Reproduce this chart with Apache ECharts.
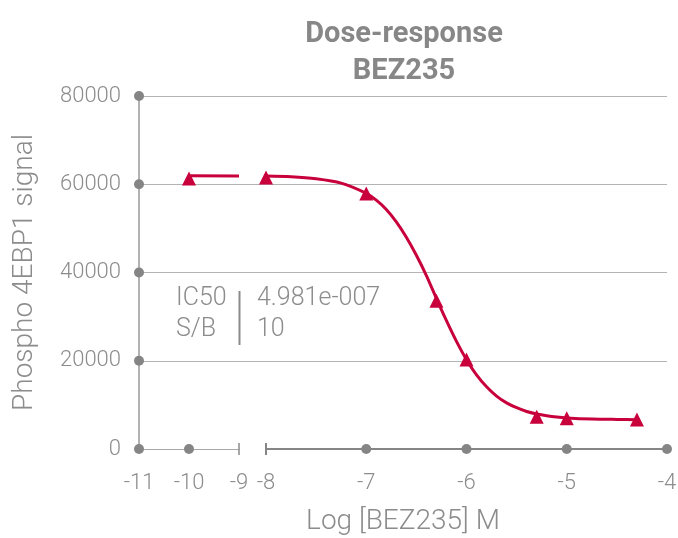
<!DOCTYPE html>
<html>
<head>
<meta charset="utf-8">
<script src="https://cdn.jsdelivr.net/npm/echarts@6/dist/echarts.min.js"></script>
<style>
  html, body { margin: 0; padding: 0; background: #fff; }
  #chart { width: 678px; height: 538px; }
</style>
</head>
<body>
<div id="chart"></div>
<script>
// tick values
var yTicks = [0, 20000, 40000, 60000, 80000];
var xTicksLeft = [-11, -10];
var xTicksRight = [-7, -6, -5, -4];
var breakEnds = [-9, -8];

// measured points (log M, signal)
var measuredLeft = [[-10, 61300]];
var measuredRight = [[-8, 61550], [-7, 57900], [-6.3, 33600], [-6, 20300], [-5.3, 7300], [-5, 6950], [-4.3, 6700]];

// fitted curve
var fitLeft = [[-10, 61900], [-9, 61880]];
var fitRight = [
  [-8, 61850], [-7.75, 61700], [-7.5, 61250], [-7.25, 60250], [-7, 57950],
  [-6.9, 56400], [-6.8, 54300], [-6.7, 51500], [-6.6, 48000], [-6.5, 43900],
  [-6.4, 39300], [-6.3, 34100], [-6.2, 29100], [-6.1, 24400], [-6, 20250],
  [-5.9, 16800], [-5.8, 14100], [-5.7, 12000], [-5.6, 10450], [-5.5, 9350],
  [-5.4, 8500], [-5.3, 7950], [-5.2, 7550], [-5.1, 7250], [-5, 7050],
  [-4.75, 6800], [-4.5, 6700], [-4.3, 6650]
];

var statNames = ['IC50', 'S/B'];
var statValues = ['4.981e-007', '10'];

var FONT = 'Roboto, "Liberation Sans", sans-serif';
var TXT = '#8c8c8c';
var RED = '#c8003c';
var DOT = '#858585';

var myChart = echarts.init(document.getElementById('chart'));

var gridTop = 96, gridHeight = 353;

function dots(xs, ys) {
  var out = [];
  xs.forEach(function (x) { ys.forEach(function (y) { out.push([x, y]); }); });
  return out;
}

var plain = function (v) { return String(v); };

myChart.setOption({
  animation: false,
  textStyle: { fontFamily: FONT },
  title: {
    text: 'Dose-response\nBEZ235',
    left: 399,
    top: 11,
    textAlign: 'center',
    textStyle: { fontFamily: FONT, fontSize: 29, fontWeight: 'bold', color: '#878787', lineHeight: 37 }
  },
  grid: [
    { left: 139, top: gridTop, width: 100, height: gridHeight, outerBoundsMode: 'none' },
    { left: 266, top: gridTop, width: 401, height: gridHeight, outerBoundsMode: 'none' },
    { left: 139, top: gridTop, width: 528, height: gridHeight, outerBoundsMode: 'none' }
  ],
  xAxis: [
    {
      gridIndex: 0, type: 'value', min: -11, max: -9, interval: 1,
      axisLine: { lineStyle: { color: '#a8a8a8', width: 1.2 } },
      axisTick: { show: false },
      splitLine: { show: false },
      axisLabel: { color: TXT, fontSize: 22, fontWeight: 300, margin: 23, formatter: plain }
    },
    {
      gridIndex: 1, type: 'value', min: -8, max: -4, interval: 1,
      axisLine: { lineStyle: { color: '#858585', width: 2 } },
      axisTick: { show: false },
      splitLine: { show: false },
      axisLabel: { color: TXT, fontSize: 22, fontWeight: 300, margin: 23, formatter: plain }
    },
    {
      gridIndex: 2, type: 'value', min: -11, max: -4,
      axisLine: { show: false }, axisTick: { show: false },
      axisLabel: { show: false }, splitLine: { show: false },
      name: 'Log [BEZ235] M', nameLocation: 'middle', nameGap: 59,
      nameTextStyle: { color: TXT, fontSize: 28, fontWeight: 300 }
    }
  ],
  yAxis: [
    { gridIndex: 0, type: 'value', min: 0, max: 80000, interval: 20000, show: false },
    { gridIndex: 1, type: 'value', min: 0, max: 80000, interval: 20000, show: false },
    {
      gridIndex: 2, type: 'value', min: 0, max: 80000, interval: 20000,
      axisLine: { show: true, lineStyle: { color: '#999', width: 1.5 } },
      axisTick: { show: false },
      axisLabel: { color: TXT, fontSize: 22, fontWeight: 300, margin: 18, formatter: plain },
      splitLine: { show: true, showMinLine: false, lineStyle: { color: '#b3b3b3', width: 1 } },
      name: 'Phospho 4EBP1 signal', nameLocation: 'middle', nameGap: 100,
      nameTextStyle: { color: TXT, fontSize: 28, fontWeight: 300 }
    }
  ],
  graphic: [
    { type: 'text', left: 176, top: 283, style: { text: statNames.join('\n'), font: '300 25px ' + FONT, fill: TXT, lineHeight: 31 } },
    { type: 'line', shape: { x1: 239.5, y1: 291, x2: 239.5, y2: 345 }, style: { stroke: '#8a8a8a', lineWidth: 2 } },
    { type: 'text', left: 257, top: 283, style: { text: statValues.join('\n'), font: '300 25px ' + FONT, fill: TXT, lineHeight: 31 } }
  ],
  series: [
    {
      type: 'line', xAxisIndex: 0, yAxisIndex: 0, data: fitLeft,
      showSymbol: false, lineStyle: { color: RED, width: 3 }, z: 3
    },
    {
      type: 'line', xAxisIndex: 1, yAxisIndex: 1, data: fitRight,
      showSymbol: false, smooth: 0.3,
      lineStyle: { color: RED, width: 3 }, z: 3
    },
    {
      type: 'scatter', xAxisIndex: 0, yAxisIndex: 0, data: measuredLeft,
      symbol: 'triangle', symbolSize: 14, itemStyle: { color: RED, opacity: 1 }, z: 4
    },
    {
      type: 'scatter', xAxisIndex: 1, yAxisIndex: 1, data: measuredRight,
      symbol: 'triangle', symbolSize: 14, itemStyle: { color: RED, opacity: 1 }, z: 4, clip: false
    },
    {
      type: 'scatter', xAxisIndex: 0, yAxisIndex: 0, clip: false, silent: true,
      data: dots([-11], yTicks).concat(dots(xTicksLeft.slice(1), [0])),
      symbol: 'circle', symbolSize: 10, itemStyle: { color: DOT, opacity: 1 }, z: 5
    },
    {
      type: 'scatter', xAxisIndex: 1, yAxisIndex: 1, clip: false, silent: true,
      data: dots(xTicksRight, [0]),
      symbol: 'circle', symbolSize: 10, itemStyle: { color: DOT, opacity: 1 }, z: 5
    },
    {
      type: 'scatter', xAxisIndex: 0, yAxisIndex: 0, clip: false, silent: true,
      data: [[breakEnds[0], 0]],
      symbol: 'rect', symbolSize: [1.5, 12], itemStyle: { color: '#8a8a8a', opacity: 1 }, z: 5
    },
    {
      type: 'scatter', xAxisIndex: 1, yAxisIndex: 1, clip: false, silent: true,
      data: [[breakEnds[1], 0]],
      symbol: 'rect', symbolSize: [2, 12], itemStyle: { color: '#858585', opacity: 1 }, z: 5
    }
  ]
});
</script>
</body>
</html>
